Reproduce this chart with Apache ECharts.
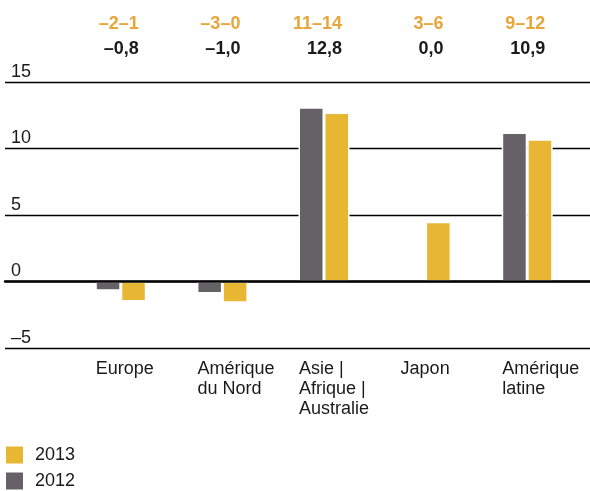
<!DOCTYPE html>
<html lang="fr">
  <head>
    <meta charset="UTF-8" />
    <title>Croissance par région</title>
    <style>
      html, body { margin: 0; padding: 0; background: #fff; }
      #chart { width: 590px; height: 491px; }
    </style>
  </head>
  <body>
    <div id="chart"></div>
    <script src="https://cdn.jsdelivr.net/npm/echarts@6/dist/echarts.min.js"></script>
    <script>
      const categories = [
        "Europe",
        "Amérique\ndu Nord",
        "Asie |\nAfrique |\nAustralie",
        "Japon",
        "Amérique\nlatine"
      ];
      const ranges = ["–2–1", "–3–0", "11–14", "3–6", "9–12"];
      const totals = ["–0,8", "–1,0", "12,8", "0,0", "10,9"];
      const values2012 = [-0.7, -0.9, 13.1, null, 11.2];
      const values2013 = [-1.5, -1.6, 12.7, 4.5, 10.7];
      const yMin = -5;
      const yMax = 15;
      const yStep = 5;

      const font = "'Liberation Sans', Arial, sans-serif";
      const gray = "#646264";
      const gold = "#e7b632";
      const orange = "#e8a53a";
      const ink = "#1a1a1a";

      const chart = echarts.init(document.querySelector("#chart"));

      const option = {
        animation: false,
        textStyle: { fontFamily: font },
        grid: [
          { left: 70, right: 12, top: 82, bottom: 143 },
          { left: 5, right: 0, top: 82, bottom: 143 }
        ],
        legend: {
          orient: "vertical",
          left: 6,
          top: 446,
          padding: 0,
          itemWidth: 17,
          itemHeight: 17,
          itemGap: 8,
          icon: "rect",
          data: ["2013", "2012"],
          itemStyle: { borderWidth: 0 },
          textStyle: { fontSize: 18, color: ink, padding: [0, 0, 0, 7] }
        },
        xAxis: [
          {
            type: "category",
            gridIndex: 0,
            position: "bottom",
            data: categories,
            axisLine: { show: false, onZero: false },
            axisTick: { show: false },
            axisLabel: {
              interval: 0,
              align: "left",
              margin: 11,
              fontSize: 18,
              lineHeight: 20,
              color: ink,
              padding: [0, 0, 0, -25]
            }
          },
          {
            type: "category",
            gridIndex: 0,
            position: "top",
            data: categories,
            axisLine: { show: false, onZero: false },
            axisTick: { show: false },
            axisLabel: {
              interval: 0,
              align: "right",
              margin: 20,
              padding: [0, -18, 0, 0],
              formatter: (v, i) => "{o|" + ranges[i] + "}\n{b|" + totals[i] + "}",
              rich: {
                o: { color: orange, fontWeight: "bold", fontSize: 18, lineHeight: 25, align: "right" },
                b: { color: ink, fontWeight: "bold", fontSize: 18, lineHeight: 25, align: "right" }
              }
            }
          },
          {
            type: "value",
            gridIndex: 1,
            min: 0,
            max: 1,
            z: 10,
            axisLine: { show: true, onZero: true, lineStyle: { color: "#000", width: 2.5 } },
            axisTick: { show: false },
            axisLabel: { show: false },
            splitLine: { show: false }
          }
        ],
        yAxis: [
          {
            type: "value",
            gridIndex: 0,
            min: yMin,
            max: yMax,
            interval: yStep,
            show: false
          },
          {
            type: "value",
            gridIndex: 1,
            min: yMin,
            max: yMax,
            interval: yStep,
            axisLine: { show: false },
            axisTick: { show: false },
            axisLabel: {
              inside: true,
              margin: 6,
              verticalAlign: "bottom",
              padding: [0, 0, 1, 0],
              fontSize: 18,
              color: ink,
              formatter: (v) => String(v).replace("-", "–")
            },
            splitLine: { lineStyle: { color: "#000", width: 1.3 } }
          }
        ],
        series: [
          {
            name: "2012",
            type: "bar",
            xAxisIndex: 0,
            yAxisIndex: 0,
            data: values2012,
            barWidth: 25.5,
            barGap: "0%",
            itemStyle: { color: gray, borderColor: "#fff", borderWidth: 1.5 }
          },
          {
            name: "2013",
            type: "bar",
            xAxisIndex: 0,
            yAxisIndex: 0,
            data: values2013,
            barWidth: 25.5,
            barGap: "0%",
            itemStyle: { color: gold, borderColor: "#fff", borderWidth: 1.5 }
          }
        ]
      };
      chart.setOption(option);
    </script>
  </body>
</html>
